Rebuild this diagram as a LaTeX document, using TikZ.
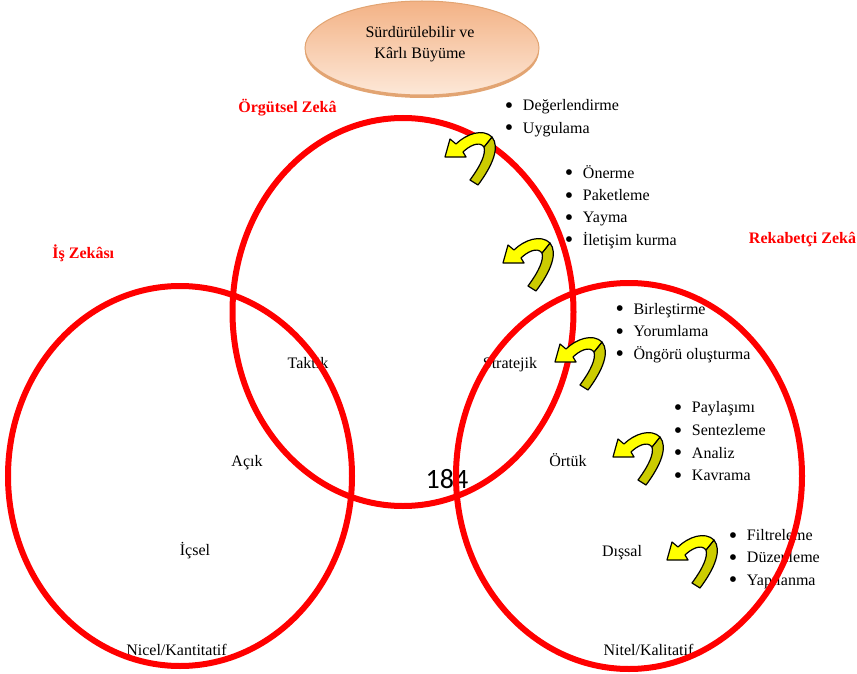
\documentclass[tikz,border=0pt]{standalone}
\usepackage{fontspec}
\setmainfont{Liberation Serif}
\newfontfamily\pagefont{Carlito}
\usepackage{tikz}
\usetikzlibrary{calc}

\definecolor{ringred}{HTML}{FF0000}
\definecolor{goaltop}{HTML}{F3B285}
\definecolor{goalbottom}{HTML}{FDE8D8}
\definecolor{goalborder}{HTML}{E2A472}
\definecolor{arrowyellow}{HTML}{FFFF00}
\definecolor{arrowdark}{HTML}{CCCC00}

\newcommand{\bul}{\makebox[13.5pt][l]{\raisebox{-2pt}{\fontsize{18}{18}\selectfont\textbullet}}}

\tikzset{
	ring/.style={draw=ringred, line width=4.5pt},
	lbl/.style={inner sep=0pt, anchor=base, font=\fontsize{12}{14}\selectfont},
	zeka/.style={lbl, text=ringred, font=\fontsize{12}{14}\selectfont\bfseries},
	item/.style={inner sep=0pt, anchor=base west, font=\fontsize{12}{14}\selectfont},
	turnarrow/.pic={
		\filldraw[fill=arrowdark, draw=black, line width=0.9pt, line join=round] (47,-20) .. controls (55,-10) and (48,8) .. (33,28) -- (25,23) .. controls (36,8) and (41,-3) .. (39,-10) -- cycle;% tail
		\filldraw[fill=arrowyellow, draw=black, line width=0.9pt, line join=round] (0,0) -- (5,-18) -- (11,-13) .. controls (21,-23) and (38,-29) .. (47,-20) -- (39,-10) .. controls (34,-17) and (23,-10) .. (18,-5) -- (21,0) -- cycle;% head
	}
}

\begin{document}
\begin{tikzpicture}[x=0.75pt,y=-0.75pt]
				\useasboundingbox (0,0) rectangle (857,674);
				\coordinate (Goal)    at (422,48);
				\coordinate (IsZeka)  at (180,476);
				\coordinate (OrgZeka) at (403,312);
				\coordinate (RekZeka) at (629,476);
				
				% goal
				\fill[goalborder] ($(Goal)+(0,3)$) ellipse [x radius=117, y radius=47];
				\shadedraw[top color=goaltop, bottom color=goalbottom, draw=goalborder, line width=0.75pt] (Goal) ellipse [x radius=117, y radius=47];
				\node[lbl, anchor=center, align=center, font=\fontsize{12}{16.2}\selectfont] (goaltext) at (420,44) {Sürdürülebilir ve\\Kârlı Büyüme};
				
				% ring titles
				\node[zeka] (orgtitle) at (287.5,112.7) {Örgütsel Zekâ};
				\node[zeka] (istitle)  at (83.3,258.3)  {İş Zekâsı};
				\node[zeka] (rektitle) at (802.5,243.3) {Rekabetçi Zekâ};
				
				% inner labels
				\node[lbl] (taktik)    at (308,368.5) {Taktik};
				\node[lbl] (stratejik) at (510,368.5) {Stratejik};
				\node[lbl] (acik)      at (247,466)   {Açık};
				\node[lbl] (ortuk)     at (568,466)   {Örtük};
				\node[lbl] (icsel)     at (195,555)   {İçsel};
				\node[lbl] (dissal)    at (622,556.7) {Dışsal};
				\node[lbl] (nicel)     at (176.5,655) {Nicel/Kantitatif};
				\node[lbl] (nitel)     at (648.5,655) {Nitel/Kalitatif};
				\node[lbl, font=\fontsize{21}{24}\pagefont] (pagenum) at (447,488.3) {184};
				
				% bullet lists
				\foreach \txt [count=\i] in {Değerlendirme, Uygulama}
					\node[item] (uyg\i) at (504.7, 88.2+22.5*\i) {\bul\txt};
				\foreach \txt [count=\i] in {Önerme, Paketleme, Yayma, İletişim kurma}
					\node[item] (yay\i) at (564.7, 156+22.3*\i) {\bul\txt};
				\foreach \txt [count=\i] in {Birleştirme, Yorumlama, Öngörü oluşturma}
					\node[item] (yor\i) at (615.3, 291.5+22.5*\i) {\bul\txt};
				\foreach \txt [count=\i] in {Paylaşımı, Sentezleme, Analiz, Kavrama}
					\node[item] (pay\i) at (673.7, 390+22.7*\i) {\bul\txt};
				\foreach \txt [count=\i] in {Filtreleme, Düzenleme, Yapılanma}
					\node[item] (fil\i) at (728.7, 518.5+22.2*\i) {\bul\txt};
				
				% rings
				\draw[ring] (IsZeka)  ellipse [x radius=172, y radius=190];
				\draw[ring] (OrgZeka) ellipse [x radius=170.5, y radius=194];
				\draw[ring] (RekZeka) ellipse [x radius=173, y radius=193];
				
				% turn arrows
				\pic at (445,157) {turnarrow};
				\pic at (503,263) {turnarrow};
				\pic at (555,362) {turnarrow};
				\pic at (613,457) {turnarrow};
				\pic at (667,560) {turnarrow};
				
\end{tikzpicture}
\end{document}
